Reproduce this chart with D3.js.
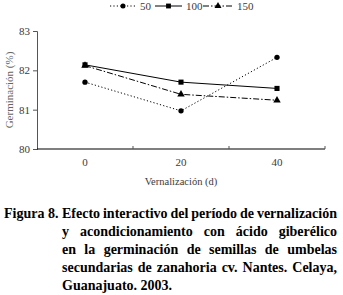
<!DOCTYPE html>
<html><head><meta charset="utf-8">
<script src="https://cdn.jsdelivr.net/npm/d3@7"></script>
<style>
html,body{margin:0;padding:0;background:#fff;}
svg{display:block;}
</style></head>
<body>
<svg id="chart" width="343" height="295"></svg>
<script>
const categories = ["0", "20", "40"];
const series50 = [81.70, 80.97, 82.33];
const series100 = [82.14, 81.70, 81.54];
const series150 = [82.12, 81.39, 81.24];
const seriesNames = ["50", "100", "150"];
const yTicks = [80, 81, 82, 83];
const xTitle = "Vernalización (d)";
const yTitle = "Germinación (%)";
const captionLabel = "Figura 8.";
const captionLines = [
  "Efecto interactivo del período de vernalización",
  "y acondicionamiento con ácido giberélico",
  "en la germinación de semillas de umbelas",
  "secundarias de zanahoria cv. Nantes. Celaya,",
  "Guanajuato. 2003."
];

(function () {
const FONT = '"Liberation Serif", serif';
const svg = d3.select("#chart");
const pLeft = 37, pRight = 325, pTop = 31, pBottom = 149;

const x = d3.scaleBand().domain(categories).range([pLeft, pRight]);
const y = d3.scaleLinear().domain([80, 83]).range([pBottom, pTop]);
const txtColor = "#3a3a3a";

// Y axis
const yAxis = svg.append("g").attr("transform", `translate(${pLeft},0)`)
  .call(d3.axisLeft(y).tickValues(yTicks).tickSize(4).tickPadding(3).tickFormat(d3.format("d")));
yAxis.attr("font-family", null);
yAxis.select(".domain").attr("stroke", "#555");
yAxis.selectAll(".tick line").attr("stroke", "#555");
yAxis.selectAll("text").attr("font-size", 11).attr("fill", txtColor)
  .style("font-family", FONT);

// X axis
const xAxisG = svg.append("g").attr("transform", `translate(0,${pBottom})`);
xAxisG.append("line").attr("x1", pLeft).attr("x2", pRight).attr("y1", 0).attr("y2", 0)
  .attr("stroke", "#000").attr("stroke-width", 1.2);
const boundaries = categories.map(c => x(c) + x.bandwidth());
xAxisG.selectAll("line.tk").data(boundaries).enter().append("line").attr("class", "tk")
  .attr("x1", d => d).attr("x2", d => d).attr("y1", 0).attr("y2", -3)
  .attr("stroke", "#555");
xAxisG.selectAll("text.xl").data(categories).enter().append("text").attr("class", "xl")
  .attr("x", d => x(d) + x.bandwidth() / 2).attr("y", 17)
  .attr("text-anchor", "middle").attr("font-size", 11).attr("fill", txtColor)
  .style("font-family", FONT).text(d => d);

// Titles
svg.append("text").attr("x", (pLeft + pRight) / 2).attr("y", 185).attr("text-anchor", "middle")
  .attr("font-size", 10.5).attr("fill", txtColor).style("font-family", FONT).text(xTitle);
svg.append("text").attr("transform", `translate(13,${(pTop + pBottom) / 2}) rotate(-90)`)
  .attr("text-anchor", "middle").attr("font-size", 11).attr("fill", "#666")
  .style("font-family", FONT).text(yTitle);

// Series
const cx = c => x(c) + x.bandwidth() / 2;
const line = d3.line().x((d, i) => cx(categories[i])).y(d => y(d));
const styles = [
  {data: series50, dash: "1.2,2.2", sym: d3.symbolCircle, size: 22},
  {data: series100, dash: null, sym: d3.symbolSquare, size: 26},
  {data: series150, dash: "6,2,1.5,2", sym: d3.symbolTriangle, size: 24}
];
[2, 0, 1].forEach(k => {
  const s = styles[k];
  svg.append("path").datum(s.data).attr("d", line).attr("fill", "none")
    .attr("stroke", "#000").attr("stroke-width", 1).attr("stroke-dasharray", s.dash);
  svg.selectAll(null).data(s.data).enter().append("path")
    .attr("d", d3.symbol().type(s.sym).size(s.size))
    .attr("transform", (d, i) => `translate(${cx(categories[i])},${y(d)})`)
    .attr("fill", "#000");
});

// Legend
const legend = svg.append("g");
const legX = [110, 155, 203];
const legW = [26, 27, 30];
seriesNames.forEach((n, k) => {
  const s = styles[k];
  const g = legend.append("g").attr("transform", `translate(${legX[k]},6)`);
  g.append("line").attr("x1", 0).attr("x2", legW[k]).attr("y1", 0).attr("y2", 0)
    .attr("stroke", "#000").attr("stroke-dasharray", s.dash);
  g.append("path").attr("d", d3.symbol().type(s.sym).size(s.size * 0.9))
    .attr("transform", `translate(${legW[k] / 2},0)`).attr("fill", "#000");
  g.append("text").attr("x", legW[k] + 4).attr("y", 4).attr("font-size", 11)
    .attr("fill", txtColor).style("font-family", FONT).text(n);
});

// Caption
const capLeft = 62, capRight = 337, base0 = 218, lh = 18;
svg.append("text").attr("x", 4).attr("y", base0).attr("font-size", 14)
  .attr("font-weight", "bold").attr("fill", "#000").style("font-family", FONT).text(captionLabel);
captionLines.forEach((ln, i) => {
  const words = ln.split(" ");
  const yb = base0 + i * lh;
  const ts = words.map(w => svg.append("text").attr("y", yb).attr("font-size", 14)
    .attr("font-weight", "bold").attr("fill", "#000").style("font-family", FONT).text(w));
  const widths = ts.map(t => t.node().getComputedTextLength());
  const total = d3.sum(widths);
  const last = i === captionLines.length - 1;
  const gap = last ? 3.5 : (capRight - capLeft - total) / (words.length - 1);
  let cxp = capLeft;
  ts.forEach((t, j) => { t.attr("x", cxp); cxp += widths[j] + gap; });
});
})();
</script>
</body></html>
